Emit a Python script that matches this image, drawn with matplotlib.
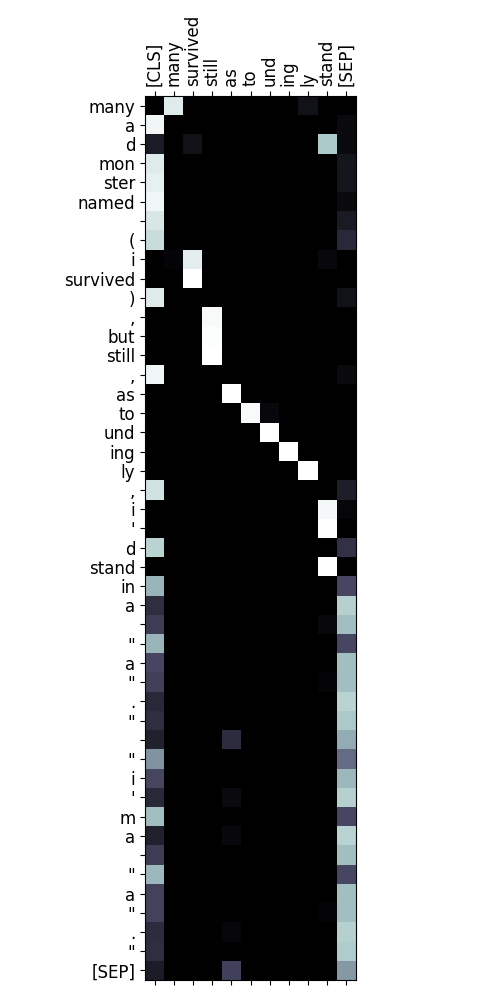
import numpy as np
import matplotlib
matplotlib.use("Agg")
import matplotlib.pyplot as plt

col_labels = ["[CLS]", "many", "survived", "still", "as", "to", "und", "ing", "ly", "stand", "[SEP]"]
row_labels = ["many", "a", "d", "mon", "ster", "named", "", "(", "i", "survived", ")", ",",
              "but", "still", ",", "as", "to", "und", "ing", "ly", ",", "i", "'", "d", "stand",
              "in", "a", "", "\"", "a", "\"", ".", "\"", "", "\"", "i", "'", "m", "a", "", "\"",
              "a", "\"", ".", "\"", "[SEP]"]

attention = [
    [0.00, 0.91, 0, 0, 0, 0, 0, 0, 0.08, 0, 0.00],
    [0.96, 0, 0, 0, 0, 0, 0, 0, 0, 0, 0.05],
    [0.13, 0, 0.08, 0, 0, 0, 0, 0, 0, 0.76, 0.05],
    [0.91, 0, 0, 0, 0, 0, 0, 0, 0, 0, 0.10],
    [0.93, 0, 0, 0, 0, 0, 0, 0, 0, 0, 0.09],
    [0.96, 0, 0, 0, 0, 0, 0, 0, 0, 0, 0.05],
    [0.89, 0, 0, 0, 0, 0, 0, 0, 0, 0, 0.12],
    [0.84, 0, 0, 0, 0, 0, 0, 0, 0, 0, 0.18],
    [0.00, 0.02, 0.92, 0, 0, 0, 0, 0, 0, 0.04, 0],
    [0.00, 0, 1.00, 0, 0, 0, 0, 0, 0, 0, 0],
    [0.91, 0, 0, 0, 0, 0, 0, 0, 0, 0, 0.08],
    [0.00, 0, 0, 0.98, 0, 0, 0, 0, 0, 0, 0],
    [0.00, 0, 0, 0.99, 0, 0, 0, 0, 0, 0, 0],
    [0.00, 0, 0, 1.00, 0, 0, 0, 0, 0, 0, 0],
    [0.96, 0, 0, 0, 0, 0, 0, 0, 0, 0, 0.05],
    [0.00, 0, 0, 0, 1.00, 0, 0, 0, 0, 0, 0],
    [0.00, 0, 0, 0, 0, 0.98, 0.04, 0, 0, 0, 0],
    [0.00, 0, 0, 0, 0, 0, 1.00, 0, 0, 0, 0],
    [0.00, 0, 0, 0, 0, 0, 0, 1.00, 0, 0, 0],
    [0.00, 0, 0, 0, 0, 0, 0, 0, 1.00, 0, 0],
    [0.87, 0, 0, 0, 0, 0, 0, 0, 0, 0, 0.14],
    [0.00, 0, 0, 0, 0, 0, 0, 0, 0, 0.97, 0.03],
    [0.00, 0, 0, 0, 0, 0, 0, 0, 0, 1.00, 0],
    [0.80, 0, 0, 0, 0, 0, 0, 0, 0, 0, 0.22],
    [0.00, 0, 0, 0, 0, 0, 0, 0, 0, 1.00, 0],
    [0.69, 0, 0, 0, 0, 0, 0, 0, 0, 0, 0.32],
    [0.21, 0, 0, 0, 0, 0, 0, 0, 0, 0, 0.79],
    [0.27, 0, 0, 0, 0, 0, 0, 0, 0, 0.04, 0.72],
    [0.69, 0, 0, 0, 0, 0, 0, 0, 0, 0, 0.32],
    [0.32, 0, 0, 0, 0, 0, 0, 0, 0, 0, 0.72],
    [0.29, 0, 0, 0, 0, 0, 0, 0, 0, 0.02, 0.72],
    [0.18, 0, 0, 0, 0, 0, 0, 0, 0, 0, 0.80],
    [0.21, 0, 0, 0, 0, 0, 0, 0, 0, 0, 0.76],
    [0.15, 0, 0, 0, 0.20, 0, 0, 0, 0, 0, 0.66],
    [0.58, 0, 0, 0, 0, 0, 0, 0, 0, 0, 0.45],
    [0.31, 0, 0, 0, 0, 0, 0, 0, 0, 0, 0.70],
    [0.18, 0, 0, 0, 0.05, 0, 0, 0, 0, 0, 0.79],
    [0.72, 0, 0, 0, 0, 0, 0, 0, 0, 0, 0.32],
    [0.15, 0, 0, 0, 0.04, 0, 0, 0, 0, 0, 0.80],
    [0.27, 0, 0, 0, 0, 0, 0, 0, 0, 0, 0.72],
    [0.70, 0, 0, 0, 0, 0, 0, 0, 0, 0, 0.32],
    [0.30, 0, 0, 0, 0, 0, 0, 0, 0, 0, 0.72],
    [0.30, 0, 0, 0, 0, 0, 0, 0, 0, 0.02, 0.72],
    [0.20, 0, 0, 0, 0.03, 0, 0, 0, 0, 0, 0.79],
    [0.21, 0, 0, 0, 0, 0, 0, 0, 0, 0, 0.77],
    [0.13, 0, 0, 0, 0.29, 0, 0, 0, 0, 0, 0.60],
]

fig = plt.figure(figsize=(5, 10), dpi=100)
ax = fig.add_axes([0.29, 0.02, 0.422, 0.884])
ax.imshow(np.array(attention), cmap="bone", vmin=0, vmax=1, aspect="auto",
          interpolation="nearest")
ax.set_xticks(range(len(col_labels)))
ax.set_yticks(range(len(row_labels)))
ax.set_yticklabels(row_labels, fontsize=12)
ax.tick_params(axis="x", top=True, bottom=True, labeltop=True, labelbottom=False)
ax.set_xticklabels(col_labels, rotation=90, fontsize=12)
fig.savefig("out.png", dpi=100)
